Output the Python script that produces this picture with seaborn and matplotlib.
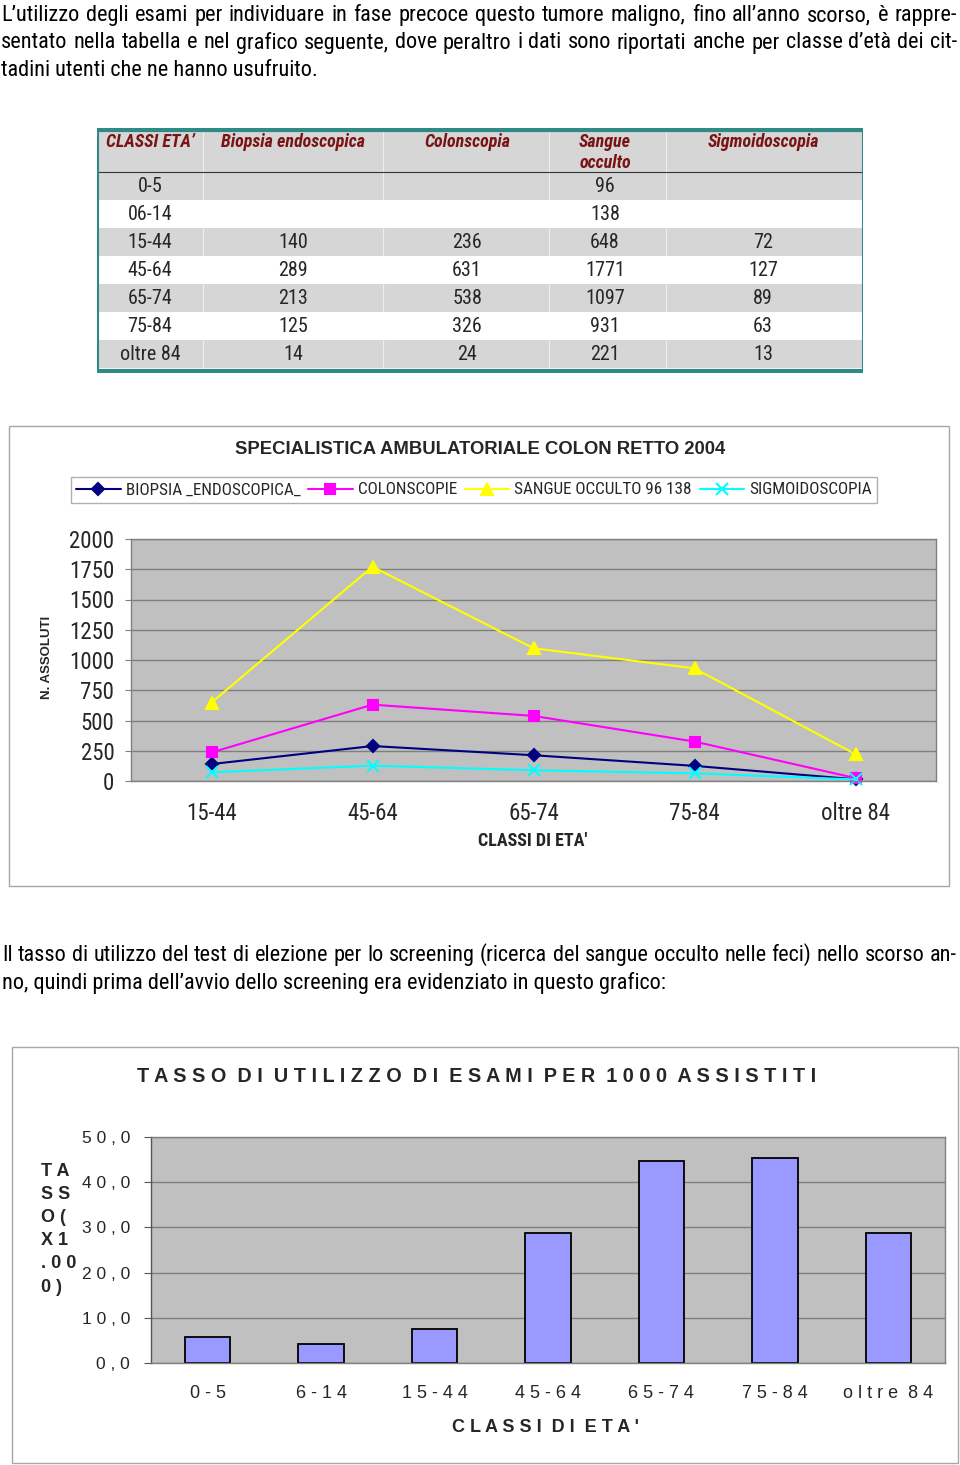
import matplotlib
matplotlib.use('Agg')
import pandas as pd
import seaborn as sns
import matplotlib.pyplot as plt
from matplotlib import font_manager
from matplotlib.patches import Rectangle

# ---- dati della tabella ----
classi_tab = ['0-5', '06-14', '15-44', '45-64', '65-74', '75-84', 'oltre 84']
biopsia = [None, None, 140, 289, 213, 125, 14]
colonscopia = [None, None, 236, 631, 538, 326, 24]
sangue = [96, 138, 648, 1771, 1097, 931, 221]
sigmoido = [None, None, 72, 127, 89, 63, 13]
intestazioni = ["CLASSI ETA’", 'Biopsia endoscopica', 'Colonscopia', 'Sangue\nocculto', 'Sigmoidoscopia']

# ---- dati del grafico a linee (classi da 15-44 in poi) ----
classi_graf = ['15-44', '45-64', '65-74', '75-84', 'oltre 84']
serie_nomi = ['BIOPSIA _ENDOSCOPICA_', 'COLONSCOPIE', 'SANGUE OCCULTO 96 138', 'SIGMOIDOSCOPIA']
serie_valori = [biopsia[2:], colonscopia[2:], sangue[2:], sigmoido[2:]]

# ---- dati del grafico a barre ----
classi_tasso = ['0-5', '6-14', '15-44', '45-64', '65-74', '75-84', 'oltre 84']
tasso = [5.7, 4.3, 7.5, 28.7, 44.8, 45.4, 28.7]

testo1 = ["L’utilizzo degli esami per individuare in fase precoce questo tumore maligno, fino all’anno scorso, è rappre-",
          "sentato nella tabella e nel grafico seguente, dove peraltro i dati sono riportati anche per classe d’età dei cit-",
          "tadini utenti che ne hanno usufruito."]
testo2 = ["Il tasso di utilizzo del test di elezione per lo screening (ricerca del sangue occulto nelle feci) nello scorso an-",
          "no, quindi prima dell’avvio dello screening era evidenziato in questo grafico:"]

W, H = 960, 1465
sns.set_style('white')
nomi_font = {f.name for f in font_manager.fontManager.ttflist}
NARROW = next((n for n in ['Roboto Condensed', 'Archivo Narrow', 'PT Sans Narrow', 'Liberation Sans']
               if n in nomi_font), 'DejaVu Sans')
plt.rcParams['font.family'] = ['Liberation Sans', 'DejaVu Sans']
STRETTO = [NARROW, 'DejaVu Sans']

fig = plt.figure(figsize=(W / 100, H / 100), dpi=100)
fig.patch.set_facecolor('white')


def fx(px):
    return px / W


def fy(py):
    return 1 - py / H


def spaziato(s):
    # testo con spaziatura larga fra le lettere
    return ' '.join(s).replace('   ', '  ')


def riga(testo, x0, x1, yb, giustifica, **kw):
    if not giustifica:
        fig.text(fx(x0), fy(yb), testo, ha='left', va='baseline', **kw)
        return
    parole = testo.split(' ')
    r = fig.canvas.get_renderer()
    larg = []
    for p in parole:
        t = fig.text(0, 0, p, **kw)
        larg.append(t.get_window_extent(r).width)
        t.remove()
    gap = max((x1 - x0 - sum(larg)) / (len(parole) - 1), 2)
    x = x0
    for p, w in zip(parole, larg):
        fig.text(fx(x), fy(yb), p, ha='left', va='baseline', **kw)
        x += w + gap


stile_par = dict(fontsize=16, family=STRETTO, color='black')
for i, (l, yb) in enumerate(zip(testo1, [21, 48.5, 76])):
    riga(l, 1, 957, yb, i < len(testo1) - 1, **stile_par)
for i, (l, yb) in enumerate(zip(testo2, [961, 989])):
    riga(l, 2, 957, yb, i < len(testo2) - 1, **stile_par)

# ---------------- tabella ----------------
ax_t = fig.add_axes([fx(97), fy(373), (863 - 97) / W, (373 - 128) / H])
ax_t.set_xlim(0, 766)
ax_t.set_ylim(245, 0)
ax_t.axis('off')
grigio = '#d6d6d6'
teal = '#2f8a85'
head_h, row_h = 44, 28
col_x = [9, 196, 370, 508, 666]
ax_t.axhspan(0, head_h, color=grigio, lw=0)
for j, intest in enumerate(intestazioni):
    ax_t.text(col_x[j], 5, intest, ha='left' if j == 0 else 'center', va='top', fontsize=13,
              family=STRETTO, weight='bold', style='italic', color='#7a1414', linespacing=1.25)
colonne = [biopsia, colonscopia, sangue, sigmoido]
for i, classe in enumerate(classi_tab):
    top = head_h + i * row_h
    if i % 2 == 0:
        ax_t.axhspan(top, top + row_h, color=grigio, lw=0)
    ax_t.text(53, top + row_h / 2 + 1, classe, ha='center', va='center', fontsize=14.5, family=STRETTO)
    for j, serie in enumerate(colonne):
        if serie[i] is not None:
            ax_t.text(col_x[j + 1], top + row_h / 2 + 1, str(serie[i]), ha='center', va='center',
                      fontsize=14.5, family=STRETTO)
for xv in [106, 286, 452, 569]:
    ax_t.axvline(xv, color='white', lw=0.8, alpha=0.6)
ax_t.axhline(head_h, color='#333333', lw=0.8)
ax_t.axhline(1.5, color=teal, lw=3)
ax_t.axhline(243, color=teal, lw=3)
ax_t.axvline(0.5, color=teal, lw=1.5)
ax_t.axvline(765.5, color=teal, lw=1.5)

# ---------------- grafico a linee ----------------
fig.add_artist(Rectangle((fx(9), fy(886)), fx(949) - fx(9), (886 - 426) / H, transform=fig.transFigure,
                         fill=False, ec='#a8a8a8', lw=1))
fig.text(fx(480), fy(450), 'SPECIALISTICA AMBULATORIALE COLON RETTO 2004', ha='center', va='center',
         fontsize=13.3, weight='bold')

ax1 = fig.add_axes([fx(131), fy(781), (936 - 131) / W, (781 - 539) / H])
ax1.set_facecolor('#c0c0c0')
colori = ['#000080', '#ff00ff', '#ffff00', '#00ffff']
marcatori = ['D', 's', '^', 'x']
dim = [6, 7, 8, 8]
for nome, valori, c, m, ms in zip(serie_nomi, serie_valori, colori, marcatori, dim):
    sns.lineplot(x=classi_graf, y=valori, ax=ax1, color=c, marker=m, markersize=ms, markeredgecolor=c,
                 markeredgewidth=1.5, linewidth=1.5, sort=False, label=nome)
for ln in ax1.lines:
    ln.set_clip_on(False)
ax1.set_xlim(-0.5, 4.5)
ax1.set_ylim(0, 2000)
ax1.set_yticks(range(0, 2001, 250))
ax1.yaxis.grid(True, color='#7f7f7f', lw=1)
ax1.set_axisbelow(True)
for s in ax1.spines.values():
    s.set_color('#808080')
    s.set_linewidth(1)
ax1.set_xticks(range(len(classi_graf)))
ax1.set_xticklabels(classi_graf)
ax1.set_xticks([k - 0.5 for k in range(len(classi_graf) + 1)], minor=True)
ax1.tick_params(axis='x', which='major', length=0, pad=15, labelsize=16.5)
ax1.tick_params(axis='x', which='minor', length=5, color='#808080', direction='out')
ax1.tick_params(axis='y', which='major', length=4, color='#808080', direction='out', pad=8, labelsize=16.5,
                left=True)
for lab in ax1.get_xticklabels() + ax1.get_yticklabels():
    lab.set_family(STRETTO)
ax1.set_xlabel('')
ax1.set_ylabel('')
fig.text(fx(47), fy(657), 'N. ASSOLUTI', rotation=90, ha='center', va='center', fontsize=9.5, weight='bold')
fig.text(fx(533), fy(841), "CLASSI DI ETA'", ha='center', va='center', fontsize=13, weight='bold',
         family=STRETTO)

maniglie, etichette = ax1.get_legend_handles_labels()
ax1.get_legend().remove()
fig.legend(maniglie, etichette, loc='center', ncol=4, mode='expand',
           bbox_to_anchor=(fx(71), fy(504), (877 - 71) / W, 28 / H), frameon=True, fancybox=False,
           edgecolor='#b0b0b0', framealpha=1, borderaxespad=0, borderpad=0.3, handlelength=2.6,
           handletextpad=0.3, prop={'family': STRETTO, 'size': 12.3})

# ---------------- grafico a barre ----------------
fig.add_artist(Rectangle((fx(12), fy(1463)), fx(958) - fx(12), (1463 - 1047) / H, transform=fig.transFigure,
                         fill=False, ec='#a8a8a8', lw=1))
fig.text(fx(477), fy(1076), spaziato('TASSO DI UTILIZZO DI ESAMI PER 1000 ASSISTITI'), ha='center',
         va='center', fontsize=14.3, weight='bold')

ax2 = fig.add_axes([fx(151), fy(1363), (945 - 151) / W, (1363 - 1137) / H])
ax2.set_facecolor('#c0c0c0')
sns.barplot(x=classi_tasso, y=tasso, order=classi_tasso, ax=ax2, color='#9999ff', saturation=1, width=0.4,
            edgecolor='black', linewidth=1.3)
ax2.set_xlim(-0.5, len(classi_tasso) - 0.5)
ax2.set_ylim(0, 50)
ax2.set_yticks(range(0, 51, 10))
ax2.set_yticklabels([spaziato(f'{v:.1f}'.replace('.', ',')) for v in range(0, 51, 10)])
ax2.yaxis.grid(True, color='#7f7f7f', lw=1)
ax2.set_axisbelow(True)
for nome_s, s in ax2.spines.items():
    s.set_color('#555555' if nome_s == 'left' else '#808080')
    s.set_linewidth(1)
ax2.set_xticks(range(len(classi_tasso)))
ax2.set_xticklabels([spaziato(c) for c in classi_tasso])
ax2.set_xticks([k - 0.5 for k in range(len(classi_tasso) + 1)], minor=True)
ax2.tick_params(axis='x', which='major', length=0, pad=16, labelsize=13)
ax2.tick_params(axis='x', which='minor', length=6, color='#808080', direction='out')
ax2.tick_params(axis='y', which='major', length=5, color='#555555', direction='out', pad=10, labelsize=12.5,
                left=True)
ax2.set_xlabel('')
ax2.set_ylabel('')
fig.text(fx(41), fy(1163), '\n'.join(spaziato(p) for p in ['TA', 'SS', 'O(', 'X1', '.00', '0)']),
         ha='left', va='top', fontsize=13, weight='bold', linespacing=1.47)
fig.text(fx(545), fy(1427), spaziato("CLASSI DI ETA'"), ha='center', va='center', fontsize=13, weight='bold')

fig.savefig('out.png', dpi=100)
